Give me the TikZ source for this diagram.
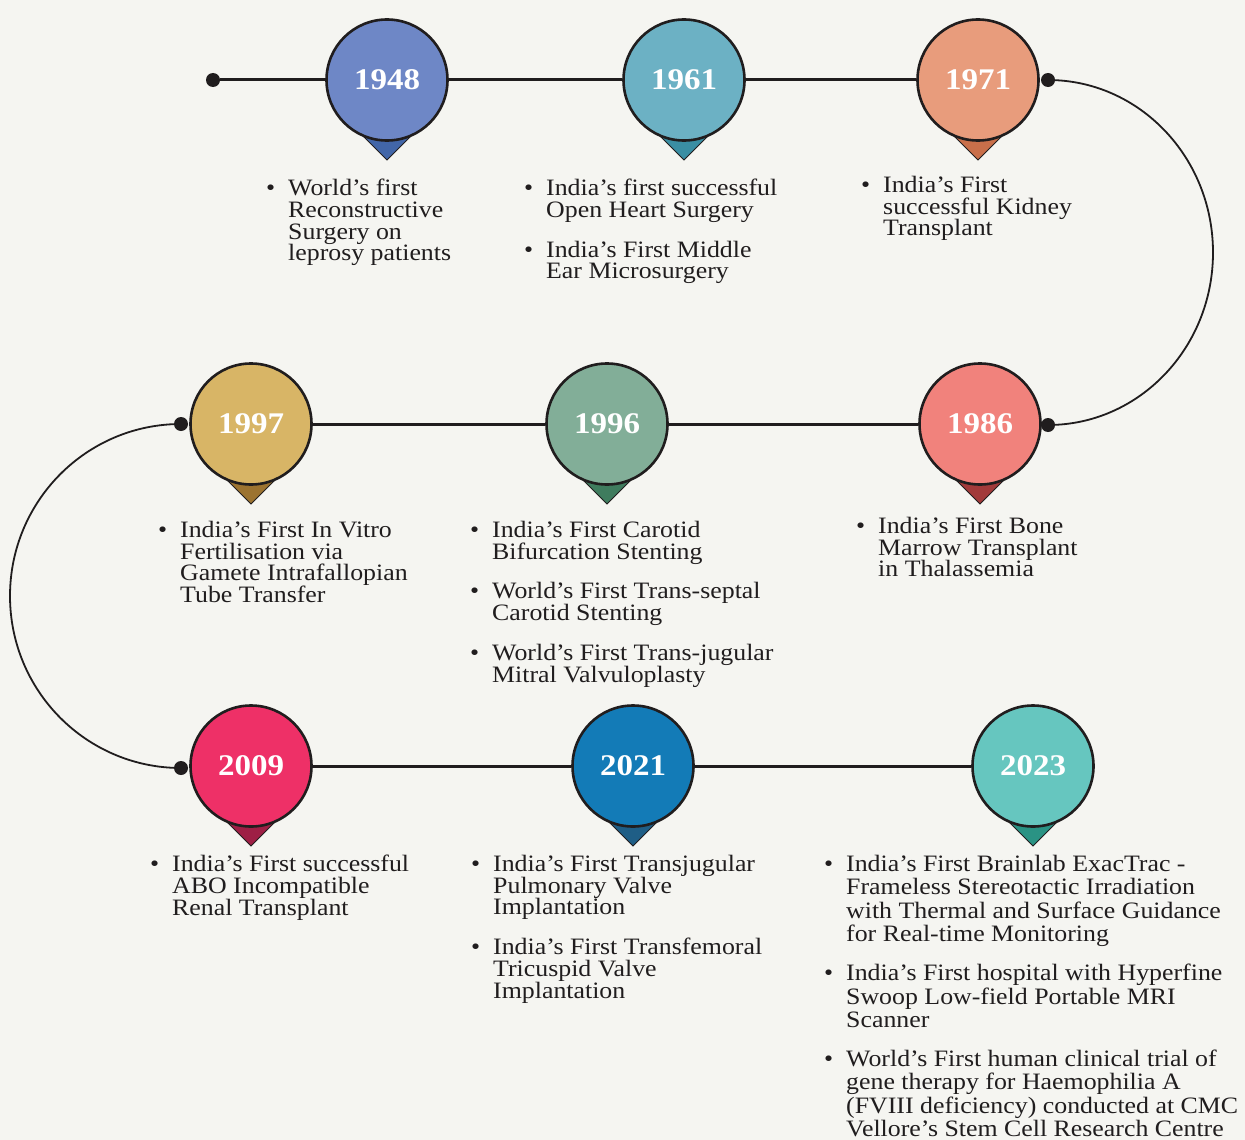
\documentclass[tikz,border=0pt]{standalone}
\usepackage{fontspec}
\setmainfont{Liberation Serif}[FakeStretch=1.1]
\definecolor{bgcol}{RGB}{245,245,241}
\definecolor{inkcol}{RGB}{32,29,30}
\definecolor{c1948}{RGB}{110,135,198}
\definecolor{d1948}{RGB}{66,102,168}
\definecolor{c1961}{RGB}{108,177,196}
\definecolor{d1961}{RGB}{58,142,163}
\definecolor{c1971}{RGB}{232,156,124}
\definecolor{d1971}{RGB}{201,111,74}
\definecolor{c1986}{RGB}{241,130,124}
\definecolor{d1986}{RGB}{162,58,58}
\definecolor{c1996}{RGB}{130,174,152}
\definecolor{d1996}{RGB}{63,124,94}
\definecolor{c1997}{RGB}{216,181,102}
\definecolor{d1997}{RGB}{156,115,48}
\definecolor{c2009}{RGB}{238,48,103}
\definecolor{d2009}{RGB}{158,31,69}
\definecolor{c2021}{RGB}{19,123,183}
\definecolor{d2021}{RGB}{31,94,134}
\definecolor{c2023}{RGB}{102,198,191}
\definecolor{d2023}{RGB}{42,147,132}
\newcommand{\bul}{\leavevmode\llap{\textbullet\hspace{13pt}}\rule{0pt}{16pt}}

\begin{document}
\begin{tikzpicture}[
  x=1pt, y=-1pt,
  yearpin/.style={circle, draw=inkcol, line width=2.6pt, minimum size=121pt,
    inner sep=0pt, text=white, font=\fontsize{30}{30}\selectfont\bfseries},
  tip/.style={draw=inkcol, line width=1pt, line join=miter},
  link/.style={inkcol, line width=3pt},
  bendline/.style={inkcol, line width=1.8pt},
  dot/.style={circle, fill=inkcol, minimum size=14pt, inner sep=0pt},
  desc/.style={anchor=north west, inner sep=0pt, align=left, text=inkcol,
    font=\fontsize{23.5}{21.7}\selectfont}
]
  \fill[bgcol] (0,0) rectangle (1245,1140);
  \useasboundingbox (0,0) rectangle (1245,1140);

  \foreach \yr/\x/\y in {1948/387/80, 1961/684/80, 1971/978/80,
                         1997/251/424, 1996/607/424, 1986/980/424,
                         2009/251/766, 2021/633/766, 2023/1033/766} {
    \filldraw[tip, fill=d\yr] (\x-23,\y+57) -- (\x+23,\y+57) -- (\x,\y+80) -- cycle;
    \node[yearpin, fill=c\yr] (y\yr) at (\x,\y) {\yr};
  }

  \node[dot] (t0) at (213,80) {};
  \node[dot] (r1) at (1048,80) {};
  \node[dot] (r2) at (1048,425) {};
  \node[dot] (l1) at (181,424) {};
  \node[dot] (l2) at (181,768) {};

  \foreach \a/\b in {t0/y1948, y1948/y1961, y1961/y1971,
                     y1997/y1996, y1996/y1986,
                     y2009/y2021, y2021/y2023}
    \draw[link] (\a) -- (\b);

  \draw[bendline] (r1.center) arc[start angle=-90, end angle=90,
    x radius=165, y radius=172.5];
  \draw[bendline] (l1.center) arc[start angle=-90, end angle=-270,
    x radius=171, y radius=172];

  \node[desc] (n1948) at (288,179)
    {\bul World’s first\\ Reconstructive\\ Surgery on\\ leprosy patients};
  \node[desc] (n1961) at (546,179)
    {\bul India’s first successful\\ Open Heart Surgery\\[18pt]
     \bul India’s First Middle\\ Ear Microsurgery};
  \node[desc] (n1971) at (883,176)
    {\bul India’s First\\ successful Kidney\\ Transplant};

  \node[desc] (n1997) at (180,521)
    {\bul India’s First In Vitro\\ Fertilisation via\\
     Gamete Intrafallopian\\ Tube Transfer};
  \node[desc] (n1996) at (492,521)
    {\bul India’s First Carotid\\ Bifurcation Stenting\\[18pt]
     \bul World’s First Trans-septal\\ Carotid Stenting\\[18pt]
     \bul World’s First Trans-jugular\\ Mitral Valvuloplasty};
  \node[desc] (n1986) at (878,517)
    {\bul India’s First Bone\\ Marrow Transplant\\ in Thalassemia};

  \node[desc] (n2009) at (172,855)
    {\bul India’s First successful\\ ABO Incompatible\\ Renal Transplant};
  \node[desc] (n2021) at (493,855)
    {\bul India’s First Transjugular\\ Pulmonary Valve\\ Implantation\\[18pt]
     \bul India’s First Transfemoral\\ Tricuspid Valve\\ Implantation};
  \node[desc, font=\fontsize{23.5}{23.3}\selectfont] (n2023) at (846,855)
    {\bul India’s First Brainlab ExacTrac -\\ Frameless Stereotactic Irradiation\\
     with Thermal and Surface Guidance\\ for Real-time Monitoring\\[16pt]
     \bul India’s First hospital with Hyperfine\\ Swoop Low-field Portable MRI\\
     Scanner\\[16pt]
     \bul World’s First human clinical trial of\\ gene therapy for Haemophilia A\\
     (FVIII deficiency) conducted at CMC\\ Vellore’s Stem Cell Research Centre};
\end{tikzpicture}
\end{document}
